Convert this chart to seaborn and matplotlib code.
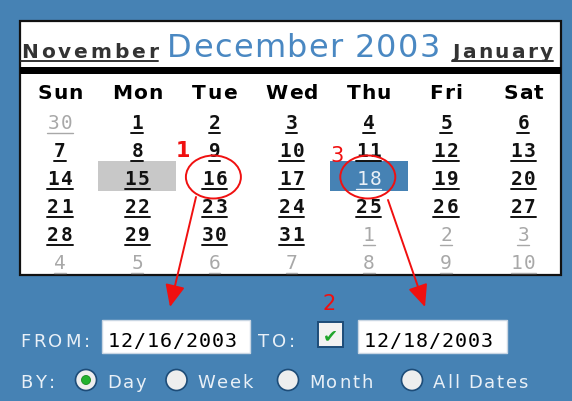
"""Date-range picker mock-up: December 2003 calendar with FROM/TO fields."""
import matplotlib
matplotlib.use('Agg')
import matplotlib.pyplot as plt
import matplotlib.patches as mpatches
from matplotlib.font_manager import FontProperties, findfont, get_font
import seaborn as sns

sns.set_theme(style="white")

# --- content ---
prev_month = 'November'
month_title = 'December 2003'
next_month = 'January'
day_names = ['Sun', 'Mon', 'Tue', 'Wed', 'Thu', 'Fri', 'Sat']
weeks = [
    [30, 1, 2, 3, 4, 5, 6],
    [7, 8, 9, 10, 11, 12, 13],
    [14, 15, 16, 17, 18, 19, 20],
    [21, 22, 23, 24, 25, 26, 27],
    [28, 29, 30, 31, 1, 2, 3],
    [4, 5, 6, 7, 8, 9, 10],
]
today = 15
selected = 18
range_start, range_end = 16, 18
from_label, to_label, by_label = 'FROM:', 'TO:', 'BY:'
from_date = '12/16/2003'
to_date = '12/18/2003'
by_options = ['Day', 'Week', 'Month', 'All Dates']
by_selected = 'Day'
callouts = ['1', '2', '3']

# --- colours ---
BLUE = '#4682B4'
TITLE_BLUE = '#4A88C2'
GREY_CELL = '#C8C8C8'
OUT_GREY = '#A8A8A8'
LIGHT = '#E9F0F7'
RED = '#F01010'

DPI = 100
fig = plt.figure(figsize=(5.72, 4.02), dpi=DPI)
fig.patch.set_facecolor(BLUE)
ax = fig.add_axes([0, 0, 1, 1])
ax.set_xlim(0, 572)
ax.set_ylim(402, 0)
ax.axis('off')
ax.set_facecolor(BLUE)


def advance(c, prop):
    f = get_font(findfont(prop))
    f.set_size(prop.get_size_in_points(), DPI)
    g = f.load_char(ord(c))
    return g.linearHoriAdvance / 65536


def track(x, y, s, size, spacing=0.0, width=None, ha='left',
          family='DejaVu Sans', weight='normal', color='black'):
    """Draw text char by char with extra letter spacing (pixel-font look)."""
    prop = FontProperties(family=family, weight=weight, size=size)
    ws = [advance(c, prop) for c in s]
    if width is not None and len(s) > 1:
        spacing = (width - sum(ws)) / (len(s) - 1)
    total = sum(ws) + spacing * (len(s) - 1)
    x0 = x - total / 2 if ha == 'center' else x
    cx = x0
    for c, w in zip(s, ws):
        ax.text(cx, y, c, fontproperties=prop, color=color,
                ha='left', va='baseline')
        cx += w + spacing
    return x0, x0 + total


# --- calendar panel ---
ax.add_patch(mpatches.Rectangle((20, 22), 541, 254, facecolor='white',
                                edgecolor='#111111', lw=1.6, zorder=0))
ax.add_patch(mpatches.Rectangle((20, 68), 541, 7, facecolor='black',
                                edgecolor='none', zorder=1))

# header
x0, x1 = track(21, 58, prev_month, 14.5, width=137, weight='bold', color='#333333')
ax.plot([x0, x1], [62, 62], color='#333333', lw=1.4)
track(167, 57, month_title, 23, width=273, color=TITLE_BLUE)
x0, x1 = track(452, 58, next_month, 14.5, width=101, weight='bold', color='#333333')
ax.plot([x0, x1], [62, 62], color='#333333', lw=1.4)

col_x = [60 + 77.2 * i for i in range(7)]
for i, name in enumerate(day_names):
    track(col_x[i], 99, name, 14.5, spacing=1.2, ha='center', weight='bold')

for r, week in enumerate(weeks):
    base = 129 + 28 * r
    for i, d in enumerate(week):
        outside = (r == 0 and d > 7) or (r >= 4 and d < 15)
        if not outside and d == today:
            ax.add_patch(mpatches.Rectangle((col_x[i] - 39, base - 23), 78, 30,
                                            facecolor=GREY_CELL, edgecolor='none'))
        if not outside and d == selected:
            ax.add_patch(mpatches.Rectangle((col_x[i] - 39, base - 23), 78, 30,
                                            facecolor=BLUE, edgecolor='none'))
        if outside:
            color, weight, lw = OUT_GREY, 'normal', 1.0
        elif d == selected:
            color, weight, lw = LIGHT, 'normal', 1.0
        else:
            color, weight, lw = '#111111', 'bold', 1.4
        x0, x1 = track(col_x[i], base, str(d), 14, spacing=1.8, ha='center',
                       family='DejaVu Sans Mono', weight=weight, color=color)
        ax.plot([x0, x1], [base + 4.5, base + 4.5], color=color, lw=lw)
        if not outside and d in (range_start, range_end):
            ax.add_patch(mpatches.Ellipse((col_x[i] - 1, base - 7), 55, 43,
                                          fill=False, edgecolor=RED, lw=1.4, zorder=5))

# callout numbers and arrows
track(176, 157, callouts[0], 15, color=RED, weight='bold')
track(322, 310, callouts[1], 15, color=RED)
track(330, 162, callouts[2], 15, color=RED)
arrow = dict(arrowstyle='-|>,head_length=0.9,head_width=0.4', color=RED, lw=1.4,
             shrinkA=0, shrinkB=0, mutation_scale=15)
ax.annotate('', xy=(170, 308), xytext=(196, 198), arrowprops=arrow)
ax.annotate('', xy=(425, 308), xytext=(388, 201), arrowprops=arrow)

# --- form controls ---
track(20, 347, from_label, 13, spacing=2.8, color=LIGHT)
ax.add_patch(mpatches.Rectangle((102, 321), 148, 33, facecolor='white',
                                edgecolor='#C9D6E3', lw=1))
track(108, 347, from_date, 14.5, width=129, family='DejaVu Sans Mono')
track(258, 347, to_label, 13, spacing=2.8, color=LIGHT)
ax.add_patch(mpatches.Rectangle((318, 323), 25, 25, facecolor='#F2F2F2',
                                edgecolor='#1D4C78', lw=1.4))
ax.text(330.5, 336, '\u2714', color='#1FA52B', ha='center', va='center',
        fontsize=13, family='DejaVu Sans')
ax.add_patch(mpatches.Rectangle((358, 321), 149, 33, facecolor='white',
                                edgecolor='#C9D6E3', lw=1))
track(364, 347, to_date, 14.5, width=129, family='DejaVu Sans Mono')

track(20, 388, by_label, 13, spacing=2.8, color=LIGHT)
radio_x = [86, 176.5, 288, 412]
for rx, opt in zip(radio_x, by_options):
    ax.add_patch(mpatches.Circle((rx, 381), 10.5, facecolor='#EEEEEE',
                                 edgecolor='#1D4C78', lw=1.2))
    if opt == by_selected:
        ax.add_patch(mpatches.Circle((rx, 381), 4.5, facecolor='#22B22E',
                                     edgecolor='#178A20', lw=0.6))
    track(rx + 21, 388, opt, 13, spacing=1.8, color=LIGHT)

fig.savefig('out.png', dpi=DPI, facecolor=BLUE)
